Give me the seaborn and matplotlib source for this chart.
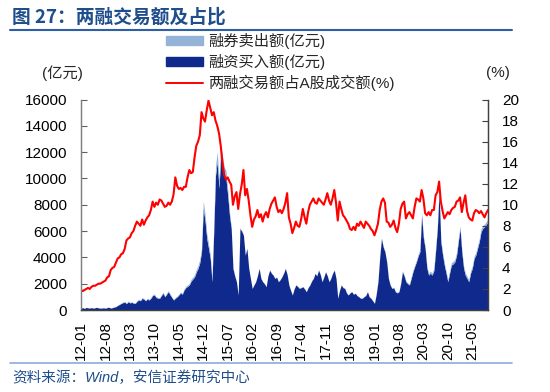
import numpy as np
import pandas as pd
import seaborn as sns
import matplotlib.pyplot as plt
from matplotlib.lines import Line2D
from matplotlib.patches import Patch

# half-monthly points, 0 = 2012-01
months = np.arange(234) / 2.0

tick_labels = ["12-01", "12-08", "13-03", "13-10", "14-05", "14-12", "15-07", "16-02",
               "16-09", "17-04", "17-11", "18-06", "19-01", "19-08", "20-03", "20-10", "21-05"]

# 两融交易额占A股成交额 (%)
ratio = [
    1.9, 1.8, 1.9, 2.0, 2.1, 2.0, 2.2, 2.3, 2.3, 2.4, 2.5, 2.5, 2.6, 2.7, 2.8, 3.1, 3.2, 3.8, 4.0, 4.1,
    4.5, 4.9, 5.0, 5.3, 5.4, 5.8, 6.6, 6.8, 6.9, 7.3, 7.5, 8.0, 8.4, 8.2, 8.0, 8.6, 8.1, 8.5, 8.8, 9.0,
    9.5, 10.3, 9.8, 10.2, 10.0, 10.5, 10.4, 10.1, 9.8, 9.9, 10.2, 10.0, 10.3, 11.0, 12.6, 11.8, 11.5, 11.6, 11.4, 11.7,
    11.7, 12.6, 13.3, 13.0, 13.1, 14.5, 15.6, 16.0, 16.6, 18.8, 18.2, 17.9, 19.0, 19.9, 19.2, 18.5, 18.8, 18.0, 17.5, 16.8,
    15.6, 14.0, 12.8, 12.4, 12.6, 12.2, 11.9, 10.0, 10.8, 11.2, 9.6, 11.0, 11.9, 13.3, 10.9, 11.5, 10.4, 9.0, 7.9, 8.6,
    8.9, 9.5, 8.8, 9.1, 8.4, 9.0, 9.3, 8.8, 9.6, 10.1, 10.4, 10.7, 9.8, 9.3, 9.5, 9.2, 9.6, 10.2, 11.1, 8.8,
    8.2, 7.3, 7.8, 8.4, 8.0, 7.9, 8.6, 9.6, 8.8, 8.2, 9.3, 10.0, 10.3, 10.6, 10.2, 10.1, 10.6, 10.4, 10.2, 10.0,
    10.5, 11.1, 10.4, 10.0, 10.6, 11.4, 10.2, 8.5, 10.3, 9.6, 9.0, 8.8, 8.5, 8.2, 7.7, 7.6, 7.9, 7.6, 8.2, 8.0,
    8.4, 8.1, 7.8, 8.4, 8.2, 8.0, 7.7, 7.5, 7.1, 7.6, 8.2, 9.5, 10.3, 10.6, 10.2, 8.4, 8.3, 7.9, 8.1, 8.5,
    7.8, 7.4, 8.2, 9.6, 10.1, 10.3, 8.7, 9.1, 9.3, 9.0, 8.7, 9.8, 10.6, 10.5, 10.3, 11.4, 10.6, 9.2, 9.0, 9.3,
    9.0, 9.5, 9.5, 10.9, 11.2, 12.2, 10.3, 9.4, 8.7, 9.0, 9.3, 9.1, 9.5, 9.7, 9.8, 10.3, 10.4, 10.7, 9.3, 10.2,
    10.9, 9.4, 8.8, 8.6, 8.5, 9.2, 9.5, 9.4, 9.2, 9.4, 9.1, 8.8, 9.2, 9.5,
]

# 融资买入额 (亿元)
buy = [
    150, 180, 120, 200, 160, 150, 180, 140, 170, 200, 160, 140, 150, 170, 130, 190, 200, 150, 180, 220,
    260, 350, 420, 500, 560, 600, 480, 630, 540, 580, 520, 500, 650, 760, 700, 890, 820, 700, 850, 760,
    900, 1100, 1140, 950, 900, 890, 1100, 1270, 1000, 1200, 1390, 1150, 950, 760, 900, 1000, 1140, 1300, 1200, 1520,
    1700, 1800, 1900, 2200, 2350, 2520, 2900, 3160, 3600, 4420, 7710, 6800, 5430, 4700, 3920, 2150, 6000, 10230, 11240, 9250,
    11750, 11000, 10230, 9980, 8720, 7200, 6190, 3160, 2600, 2150, 1140, 6190, 6000, 5690, 4170, 4680, 3200, 2400, 1640, 1900,
    2150, 2600, 3160, 2400, 2150, 2000, 1770, 2600, 3030, 2800, 2650, 2400, 2500, 2150, 2300, 2520, 2800, 3160, 2700, 1900,
    1500, 1140, 1600, 1900, 1800, 1640, 1700, 1770, 1600, 1390, 1700, 1900, 2200, 2400, 2780, 2600, 3030, 2700, 2150, 2500,
    2900, 2600, 2150, 2400, 2780, 3030, 2400, 890, 1500, 1900, 1700, 1640, 1300, 1140, 1300, 1390, 1200, 1270, 1100, 1010,
    900, 890, 1010, 1100, 1390, 1000, 890, 700, 510, 1200, 2150, 4000, 5430, 4800, 4420, 3660, 2400, 1900, 1640, 1700,
    1390, 1300, 1390, 2000, 2900, 2600, 2150, 2000, 1900, 2400, 2900, 3300, 3660, 4100, 4420, 7200, 5500, 4680, 3200, 2650,
    2800, 2650, 3000, 4500, 6190, 8970, 5180, 4200, 3410, 2800, 2150, 2800, 3410, 3500, 3660, 4170, 5200, 6190, 4420, 3200,
    2650, 2400, 2150, 2800, 3160, 3900, 4170, 4680, 5200, 5940, 6200, 6320, 6500, 6700,
]

# 融券卖出额 (亿元)
short = [
    10, 12, 10, 15, 12, 10, 12, 10, 15, 18, 12, 10, 12, 15, 12, 18, 20, 15, 18, 22,
    25, 30, 35, 40, 45, 50, 40, 55, 45, 50, 45, 40, 55, 60, 50, 55, 60, 50, 55, 50,
    60, 70, 75, 60, 55, 50, 65, 80, 70, 85, 90, 75, 60, 50, 55, 60, 70, 80, 75, 90,
    100, 110, 120, 140, 150, 170, 190, 220, 260, 320, 600, 500, 400, 350, 300, 200, 450, 700, 800, 650,
    800, 700, 650, 600, 450, 300, 150, 80, 40, 30, 20, 60, 50, 40, 30, 35, 25, 15, 12, 15,
    15, 20, 25, 20, 18, 15, 14, 18, 20, 22, 20, 18, 20, 22, 24, 20, 22, 25, 28, 24,
    20, 15, 18, 20, 22, 20, 18, 20, 22, 18, 16, 20, 24, 26, 30, 28, 32, 35, 30, 28,
    32, 30, 28, 32, 35, 30, 15, 20, 25, 22, 20, 18, 16, 18, 20, 18, 16, 18, 20, 18,
    16, 15, 18, 20, 18, 16, 14, 20, 40, 60, 70, 65, 60, 50, 45, 40, 38, 40, 42, 40,
    45, 50, 60, 70, 90, 80, 70, 75, 80, 90, 110, 120, 130, 150, 170, 200, 180, 160, 150, 140,
    150, 160, 180, 220, 260, 200, 180, 170, 160, 150, 160, 170, 180, 190, 200, 220, 230, 210, 200, 190,
    180, 170, 160, 170, 180, 190, 200, 210, 220, 230, 220, 210, 220, 230,
]

df = pd.DataFrame({"m": months, "ratio": ratio, "buy": buy, "short": short})

sns.set_theme(style="white")
plt.rcParams["font.family"] = ["Liberation Sans", "Noto Sans CJK SC"]
plt.rcParams["axes.unicode_minus"] = False

navy = "#0f2a8c"
light = "#95b3d7"
title_blue = "#1f4e8c"

fig = plt.figure(figsize=(5.5, 3.92), dpi=100)
ax = fig.add_axes([81 / 550, 1 - 310 / 392, (488 - 81) / 550, (310 - 99.5) / 392])

ax.stackplot(df["m"], df["buy"], df["short"], colors=[navy, light], linewidth=0)
ax.set_xlim(0, 116.5)
ax.set_ylim(0, 16000)
ax.set_yticks(np.arange(0, 16001, 2000))
ax.set_xticks(np.arange(len(tick_labels)) * 7)
ax.set_xticklabels(tick_labels, rotation=90)
ax.tick_params(axis="both", direction="in", length=4, width=0.8, colors="#606060",
               labelcolor="black", labelsize=11)
ax.tick_params(axis="y", pad=10)
ax.tick_params(axis="x", pad=8)
ax.set_xlabel("")
ax.set_ylabel("")

ax2 = ax.twinx()
sns.lineplot(data=df, x="m", y="ratio", ax=ax2, color="#ff0000", linewidth=1.5, legend=False)
ax2.set_ylim(0, 20)
ax2.set_yticks(np.arange(0, 21, 2))
ax2.set_ylabel("")
ax2.set_xlim(0, 116.5)
ax2.tick_params(axis="y", direction="in", length=4, width=0.8, colors="#404040",
                labelcolor="black", labelsize=11, pad=10)

for a in (ax, ax2):
    a.spines["top"].set_visible(False)
    a.spines["left"].set_color("#808080")
    a.spines["right"].set_color("#404040")
    a.spines["bottom"].set_color("#404040")
    for s in a.spines.values():
        s.set_linewidth(0.9)
    a.grid(False)

handles = [Patch(color=light), Patch(color=navy), Line2D([], [], color="#ff0000", linewidth=1.4)]
labels = ["融券卖出额(亿元)", "融资买入额(亿元)", "两融交易额占A股成交额(%)"]
fig.legend(handles, labels, loc="upper left", bbox_to_anchor=(166 / 550, 1 - 33 / 392),
           frameon=False, fontsize=11, handlelength=2.4, handleheight=0.55,
           handletextpad=0.35, labelspacing=0.32, borderpad=0, borderaxespad=0)

fig.text(62 / 550, 1 - 73 / 392, "(亿元)", ha="center", va="center", fontsize=11)
fig.text(498 / 550, 1 - 73 / 392, "(%)", ha="center", va="center", fontsize=11)

fig.text(12 / 550, 1 - 17 / 392, "图 27：两融交易额及占比", ha="left", va="center",
         fontsize=13.5, fontweight="bold", color=title_blue,
         family=["Noto Sans CJK SC", "Liberation Sans"])
fig.add_artist(Line2D([10 / 550, 512 / 550], [1 - 30 / 392, 1 - 30 / 392], color="#2e5fa6", linewidth=1.5))
fig.add_artist(Line2D([10 / 550, 512 / 550], [1 - 363 / 392, 1 - 363 / 392], color="#8eaadb", linewidth=1.2))
fig.text(12 / 550, 1 - 378 / 392, "资料来源：Wind，安信证券研究中心", ha="left", va="center",
         fontsize=10.5, style="italic", color=title_blue,
         family=["Liberation Sans", "Noto Sans CJK SC"])

fig.savefig("out.png", dpi=100)
